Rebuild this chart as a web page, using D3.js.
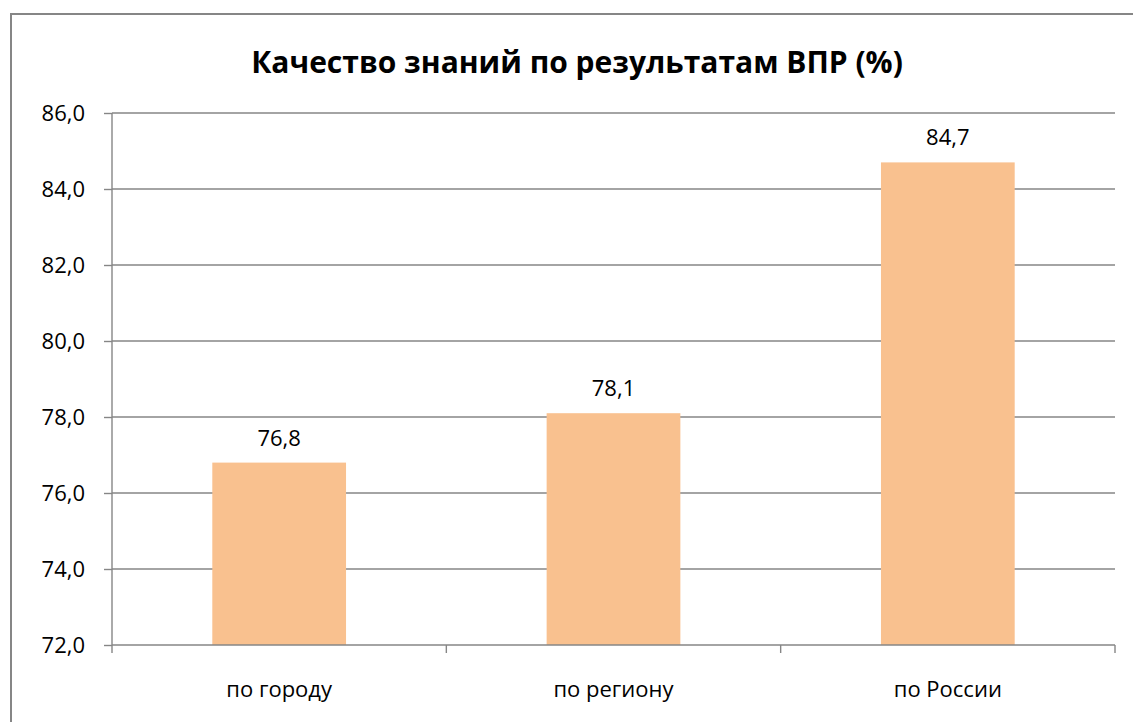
<!DOCTYPE html>
<html>
<head>
<meta charset="utf-8">
<script src="https://cdn.jsdelivr.net/npm/d3@7"></script>
<style>
  body { margin: 0; background: #fff; }
  svg { display: block; font-family: "Open Sans", sans-serif; }
</style>
</head>
<body>
<svg width="1133" height="722"></svg>
<script>
const categories = ['по городу', 'по региону', 'по России'];
const values = [76.8, 78.1, 84.7];
const yTicks = [72, 74, 76, 78, 80, 82, 84, 86];
const title = 'Качество знаний по результатам ВПР (%)';

const svg = d3.select('svg');
const margin = {left: 112, right: 18, top: 113, bottom: 77};
const W = 1133, H = 722;
const fs = '22px';

// outer frame (cut off at right/bottom like the source)
svg.append('rect')
  .attr('x', 11).attr('y', 14)
  .attr('width', 1140).attr('height', 740)
  .attr('fill', 'none')
  .attr('stroke', '#868686')
  .attr('stroke-width', 2);

const x = d3.scaleBand()
  .domain(categories)
  .range([margin.left, W - margin.right])
  .paddingInner(0.6)
  .paddingOuter(0.3);

const y = d3.scaleLinear()
  .domain([72, 86])
  .range([H - margin.bottom, margin.top]);

const fmt = d => d.toFixed(1).replace('.', ',');

// gridlines
svg.append('g')
  .selectAll('line')
  .data(yTicks.slice(1))
  .join('line')
  .attr('x1', margin.left).attr('x2', W - margin.right)
  .attr('y1', d => y(d)).attr('y2', d => y(d))
  .attr('stroke', '#868686')
  .attr('stroke-width', 1.4);

// bars
svg.append('g')
  .selectAll('rect')
  .data(values)
  .join('rect')
  .attr('x', (d, i) => x(categories[i]))
  .attr('width', x.bandwidth())
  .attr('y', d => y(d))
  .attr('height', d => y(72) - y(d))
  .attr('fill', '#f9c18f');

// value labels
svg.append('g')
  .selectAll('text')
  .data(values)
  .join('text')
  .attr('x', (d, i) => x(categories[i]) + x.bandwidth() / 2)
  .attr('y', d => y(d) - 17)
  .attr('text-anchor', 'middle')
  .style('font-size', fs)
  .style('fill', '#000')
  .text(fmt);

// y axis
const yAxis = svg.append('g')
  .attr('transform', `translate(${margin.left},0)`)
  .call(d3.axisLeft(y).tickValues(yTicks).tickFormat(fmt).tickSize(8).tickPadding(19));
yAxis.attr('font-family', null).attr('font-size', null);
yAxis.selectAll('line, path').attr('stroke', '#868686').attr('stroke-width', 1.4);
yAxis.select('.domain').attr('d', `M0,${y(86)}V${y(72)}`);
yAxis.selectAll('text').style('font-size', fs).style('fill', '#000').attr('dy', '0.36em');

// x axis
const xAxis = svg.append('g')
  .attr('transform', `translate(0,${y(72)})`);
xAxis.append('line')
  .attr('x1', margin.left).attr('x2', W - margin.right)
  .attr('stroke', '#868686').attr('stroke-width', 1.4);
const bounds = d3.range(categories.length + 1).map(i => margin.left + i * (W - margin.left - margin.right) / categories.length);
xAxis.selectAll('line.tick')
  .data(bounds)
  .join('line')
  .attr('class', 'tick')
  .attr('x1', d => d).attr('x2', d => d)
  .attr('y1', 0).attr('y2', 8)
  .attr('stroke', '#868686').attr('stroke-width', 1.4);
xAxis.selectAll('text')
  .data(categories)
  .join('text')
  .attr('x', d => x(d) + x.bandwidth() / 2)
  .attr('y', 52)
  .attr('text-anchor', 'middle')
  .style('font-size', fs)
  .style('fill', '#000')
  .text(d => d);

// title
svg.append('text')
  .attr('x', 577).attr('y', 73)
  .attr('text-anchor', 'middle')
  .style('font-size', '30px')
  .style('font-weight', 'bold')
  .style('fill', '#000')
  .text(title);
</script>
</body>
</html>
